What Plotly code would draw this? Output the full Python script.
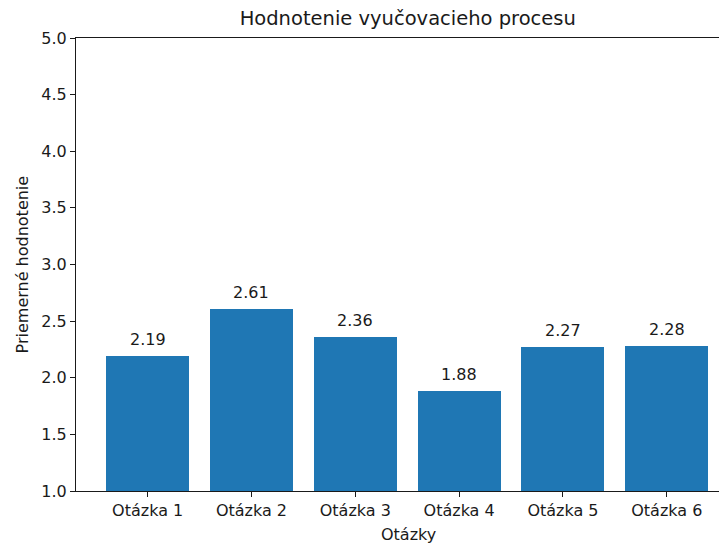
import plotly.graph_objects as go

# data
questions = ["Otázka 1", "Otázka 2", "Otázka 3", "Otázka 4", "Otázka 5", "Otázka 6"]
averages = [2.19, 2.61, 2.36, 1.88, 2.27, 2.28]
y_ticks = [1.0, 1.5, 2.0, 2.5, 3.0, 3.5, 4.0, 4.5, 5.0]

idx = list(range(len(questions)))
font = "DejaVu Sans"
ink = "#1a1a1a"

fig = go.Figure()
fig.add_trace(go.Bar(
    x=idx, y=averages, width=0.8,
    marker=dict(color="#1f77b4", line=dict(width=0)),
    showlegend=False, hoverinfo="skip",
))

# value labels over the bars
labels = [
    dict(x=i, y=v, text=f"{v:.2f}", xref="x", yref="y", showarrow=False,
         yanchor="bottom", yshift=5, font=dict(size=16, color=ink))
    for i, v in zip(idx, averages)
]
labels += [
    dict(text="Otázky", xref="paper", yref="paper", x=0.511, y=-0.097,
         yanchor="middle", showarrow=False, font=dict(size=16, color=ink)),
    dict(text="Priemerné hodnotenie", xref="paper", yref="paper", x=-0.0815, y=0.5,
         xanchor="center", yanchor="middle", textangle=-90, showarrow=False,
         font=dict(size=16, color=ink)),
]

fig.update_layout(
    width=719, height=536,
    margin=dict(l=68, r=0, t=30, b=53),
    plot_bgcolor="white", paper_bgcolor="white",
    font=dict(family=font, size=16, color=ink),
    title=dict(text="Hodnotenie vyučovacieho procesu", x=0.556, xanchor="center",
               y=0.981, yanchor="middle", font=dict(size=19.5, color=ink)),
    bargap=0,
    annotations=labels,
)
fig.update_xaxes(
    range=[-0.69, 5.58], tickvals=idx, ticktext=questions,
    showgrid=False, zeroline=False,
    showline=True, linecolor=ink, linewidth=1.2, mirror=True,
    ticks="outside", ticklen=5, tickcolor=ink,
)
fig.update_yaxes(
    range=[1.0, 5.0], tickvals=y_ticks, ticktext=[f"{t:.1f}" for t in y_ticks],
    showgrid=False, zeroline=False,
    showline=True, linecolor=ink, linewidth=1.2,
    ticks="outside", ticklen=5, tickcolor=ink,
)

fig.write_html("out.html")
